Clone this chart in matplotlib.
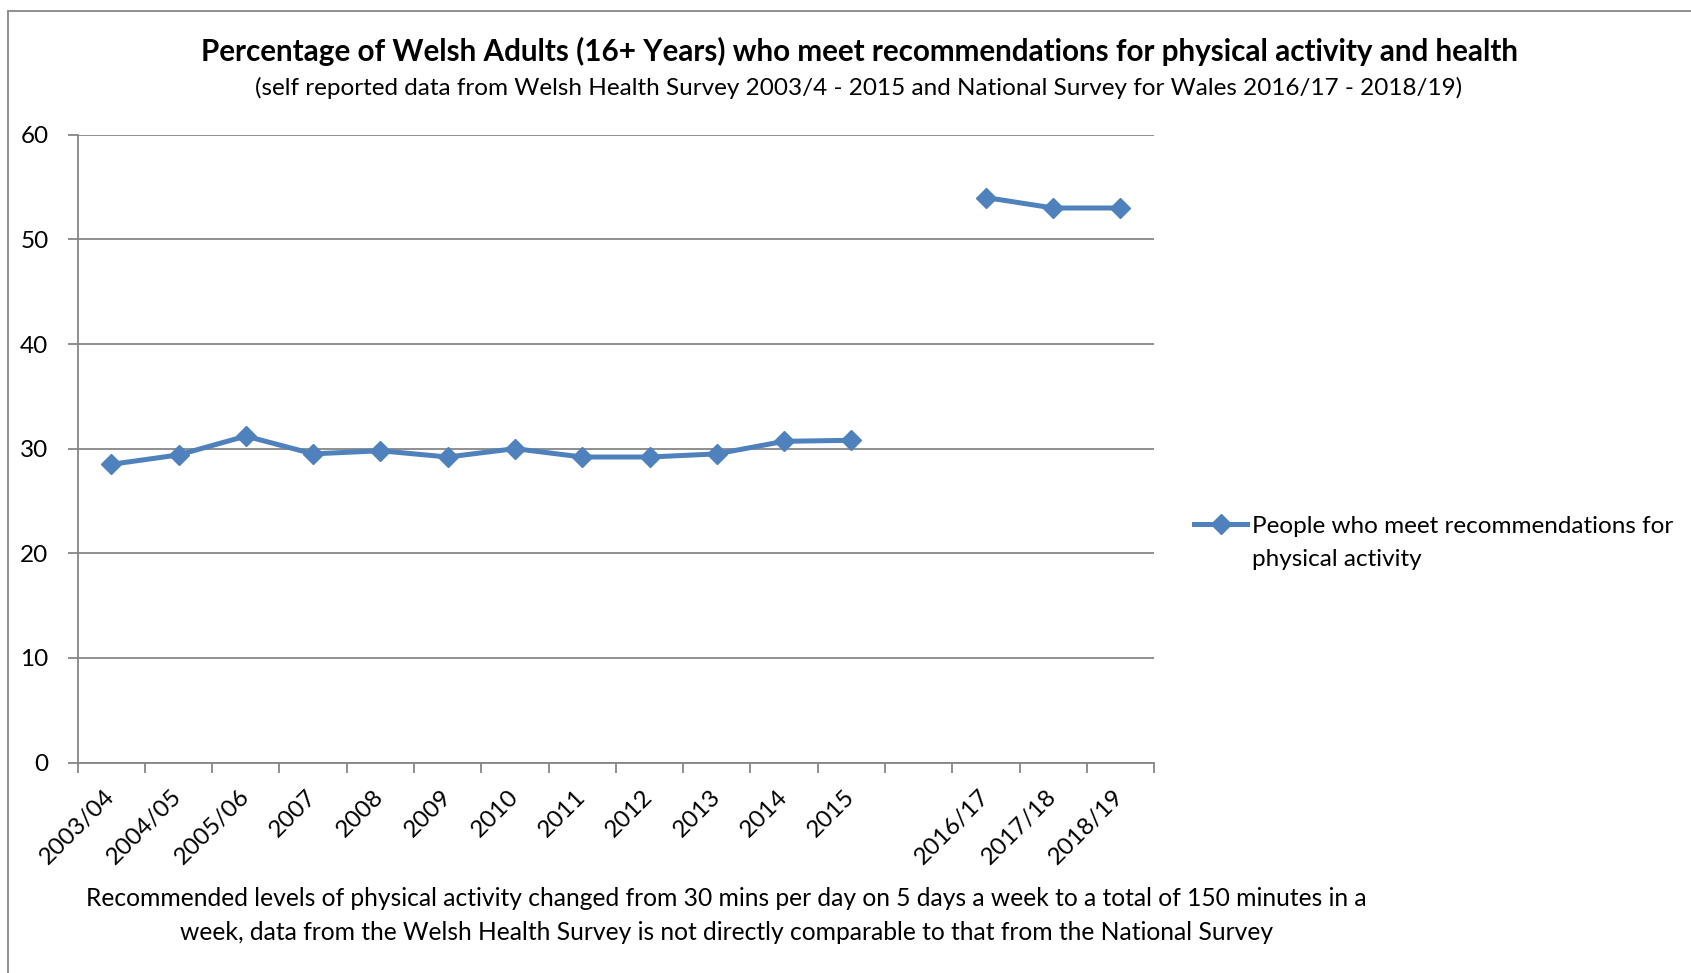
import numpy as np
import matplotlib
matplotlib.use("Agg")
import matplotlib.pyplot as plt
from matplotlib.patches import Rectangle

# ---------------------------------------------------------------------------
# Data
# ---------------------------------------------------------------------------
categories = ["2003/04", "2004/05", "2005/06", "2007", "2008", "2009", "2010",
              "2011", "2012", "2013", "2014", "2015", "",
              "2016/17", "2017/18", "2018/19"]
values = [28.5, 29.4, 31.2, 29.5, 29.8, 29.2, 30.0, 29.2, 29.2, 29.5, 30.7,
          30.8, np.nan, 54.0, 53.0, 53.0]
series_label = ["People who meet recommendations for", "physical activity"]

title = "Percentage of Welsh Adults (16+ Years) who meet recommendations for physical activity and health"
subtitle = ("(self reported data from Welsh Health Survey 2003/4 - 2015 and "
            "National Survey for Wales 2016/17 - 2018/19)")
footnote = ("Recommended levels of physical activity changed from 30 mins per day on 5 days a week to a total of 150 minutes in a\n"
            "week, data from the Welsh Health Survey is not directly comparable to that from the National Survey")

plt.rcParams["font.family"] = ["Lato", "DejaVu Sans"]

BLUE = "#4F81BD"
GREY = "#868686"
FS = 17.5

fig = plt.figure(figsize=(16.91, 9.73), dpi=100)
ax = fig.add_axes([0.0459, 0.2163, 0.6366, 0.6452])

x = np.arange(len(categories))
ax.plot(x, values, color=BLUE, linewidth=3.6, marker="D", markersize=10.5,
        label=series_label[0])

ax.set_xlim(-0.5, len(categories) - 0.5)
ax.set_ylim(0, 60)
ax.set_yticks(range(0, 61, 10))
ax.yaxis.grid(True, color=GREY, linewidth=1.3)
ax.set_axisbelow(True)

ax.set_xticks(x)
ax.set_xticklabels(categories, rotation=45, ha="right", va="center",
                   rotation_mode="anchor", fontsize=FS)
ax.set_xticks(np.arange(-0.5, len(categories)), minor=True)
ax.tick_params(axis="x", which="major", length=0, pad=22)
ax.tick_params(axis="x", which="minor", length=7, color=GREY, width=1.3)
ax.tick_params(axis="y", length=7, color=GREY, width=1.3, labelsize=FS, pad=14)

for side in ("top", "right"):
    ax.spines[side].set_visible(False)
for side in ("left", "bottom"):
    ax.spines[side].set_color(GREY)
    ax.spines[side].set_linewidth(1.3)

fig.text(0.508, 0.947, title, ha="center", va="center", fontsize=21.3,
         fontweight="bold")
fig.text(0.508, 0.910, subtitle, ha="center", va="center", fontsize=FS)
fig.text(0.4295, 0.059, footnote, ha="center", va="center", fontsize=17.7,
         linespacing=1.55)

leg = ax.legend(loc="center left", bbox_to_anchor=(0.706, 0.459),
                bbox_transform=fig.transFigure, frameon=False, fontsize=FS,
                handlelength=2.2, handletextpad=0.2, borderaxespad=0,
                borderpad=0)

# second line of the legend label, aligned under the first
fig.canvas.draw()
bb = leg.get_texts()[0].get_window_extent().transformed(fig.transFigure.inverted())
fig.text(bb.x0, bb.y0 - 0.012, series_label[1], ha="left", va="top", fontsize=FS)

# outer chart frame (partly cropped in the original)
fig.patches.append(Rectangle((0.005, -0.1), 1.2, 1.089, transform=fig.transFigure,
                             fill=False, edgecolor=GREY, linewidth=1.3))

plt.savefig("out.png", dpi=100)
